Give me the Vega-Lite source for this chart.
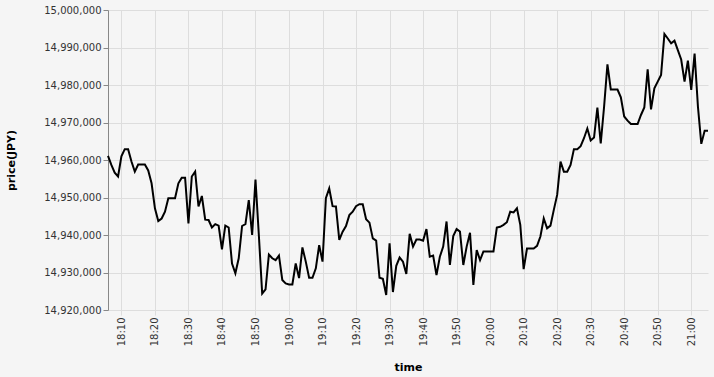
{
  "$schema": "https://vega.github.io/schema/vega-lite/v6.json",
  "width": 600,
  "height": 300,
  "background": "#f5f5f5",
  "config": {"view": {"stroke": null}, "axis": {"gridColor": "#dddddd", "labelColor": "#333333", "titleColor": "#000000", "labelFont": "DejaVu Sans", "titleFont": "DejaVu Sans", "labelFontSize": 10, "titleFontSize": 11}},
  "data": {
    "values": [
      {"t":"2024-01-01T18:06:00","p":14961100},{"t":"2024-01-01T18:07:00","p":14958700},{"t":"2024-01-01T18:08:00","p":14956600},{"t":"2024-01-01T18:09:00","p":14955600},
      {"t":"2024-01-01T18:10:00","p":14961000},{"t":"2024-01-01T18:11:00","p":14962900},{"t":"2024-01-01T18:12:00","p":14962900},{"t":"2024-01-01T18:13:00","p":14959600},
      {"t":"2024-01-01T18:14:00","p":14956900},{"t":"2024-01-01T18:15:00","p":14958800},{"t":"2024-01-01T18:16:00","p":14958800},{"t":"2024-01-01T18:17:00","p":14958800},
      {"t":"2024-01-01T18:18:00","p":14957200},{"t":"2024-01-01T18:19:00","p":14953800},{"t":"2024-01-01T18:20:00","p":14947100},{"t":"2024-01-01T18:21:00","p":14943700},
      {"t":"2024-01-01T18:22:00","p":14944400},{"t":"2024-01-01T18:23:00","p":14946200},{"t":"2024-01-01T18:24:00","p":14949800},{"t":"2024-01-01T18:25:00","p":14949800},
      {"t":"2024-01-01T18:26:00","p":14949800},{"t":"2024-01-01T18:27:00","p":14953800},{"t":"2024-01-01T18:28:00","p":14955300},{"t":"2024-01-01T18:29:00","p":14955300},
      {"t":"2024-01-01T18:30:00","p":14943100},{"t":"2024-01-01T18:31:00","p":14955600},{"t":"2024-01-01T18:32:00","p":14956900},{"t":"2024-01-01T18:33:00","p":14947600},
      {"t":"2024-01-01T18:34:00","p":14950400},{"t":"2024-01-01T18:35:00","p":14944100},{"t":"2024-01-01T18:36:00","p":14944000},{"t":"2024-01-01T18:37:00","p":14942000},
      {"t":"2024-01-01T18:38:00","p":14942900},{"t":"2024-01-01T18:39:00","p":14942500},{"t":"2024-01-01T18:40:00","p":14936200},{"t":"2024-01-01T18:41:00","p":14942500},
      {"t":"2024-01-01T18:42:00","p":14942000},{"t":"2024-01-01T18:43:00","p":14932400},{"t":"2024-01-01T18:44:00","p":14929800},{"t":"2024-01-01T18:45:00","p":14933800},
      {"t":"2024-01-01T18:46:00","p":14942400},{"t":"2024-01-01T18:47:00","p":14942900},{"t":"2024-01-01T18:48:00","p":14949300},{"t":"2024-01-01T18:49:00","p":14940000},
      {"t":"2024-01-01T18:50:00","p":14954800},{"t":"2024-01-01T18:51:00","p":14940000},{"t":"2024-01-01T18:52:00","p":14924400},{"t":"2024-01-01T18:53:00","p":14925500},
      {"t":"2024-01-01T18:54:00","p":14934800},{"t":"2024-01-01T18:55:00","p":14933800},{"t":"2024-01-01T18:56:00","p":14933300},{"t":"2024-01-01T18:57:00","p":14934500},
      {"t":"2024-01-01T18:58:00","p":14928000},{"t":"2024-01-01T18:59:00","p":14927100},{"t":"2024-01-01T19:00:00","p":14926800},{"t":"2024-01-01T19:01:00","p":14926800},
      {"t":"2024-01-01T19:02:00","p":14932400},{"t":"2024-01-01T19:03:00","p":14928500},{"t":"2024-01-01T19:04:00","p":14936700},{"t":"2024-01-01T19:05:00","p":14932900},
      {"t":"2024-01-01T19:06:00","p":14928600},{"t":"2024-01-01T19:07:00","p":14928600},{"t":"2024-01-01T19:08:00","p":14931100},{"t":"2024-01-01T19:09:00","p":14937300},
      {"t":"2024-01-01T19:10:00","p":14932900},{"t":"2024-01-01T19:11:00","p":14949800},{"t":"2024-01-01T19:12:00","p":14952400},{"t":"2024-01-01T19:13:00","p":14947700},
      {"t":"2024-01-01T19:14:00","p":14947600},{"t":"2024-01-01T19:15:00","p":14938700},{"t":"2024-01-01T19:16:00","p":14940900},{"t":"2024-01-01T19:17:00","p":14942400},
      {"t":"2024-01-01T19:18:00","p":14945300},{"t":"2024-01-01T19:19:00","p":14946200},{"t":"2024-01-01T19:20:00","p":14947700},{"t":"2024-01-01T19:21:00","p":14948200},
      {"t":"2024-01-01T19:22:00","p":14948200},{"t":"2024-01-01T19:23:00","p":14944200},{"t":"2024-01-01T19:24:00","p":14943300},{"t":"2024-01-01T19:25:00","p":14939100},
      {"t":"2024-01-01T19:26:00","p":14938500},{"t":"2024-01-01T19:27:00","p":14928600},{"t":"2024-01-01T19:28:00","p":14928300},{"t":"2024-01-01T19:29:00","p":14924000},
      {"t":"2024-01-01T19:30:00","p":14937800},{"t":"2024-01-01T19:31:00","p":14924800},{"t":"2024-01-01T19:32:00","p":14931800},{"t":"2024-01-01T19:33:00","p":14934000},
      {"t":"2024-01-01T19:34:00","p":14932900},{"t":"2024-01-01T19:35:00","p":14929600},{"t":"2024-01-01T19:36:00","p":14940300},{"t":"2024-01-01T19:37:00","p":14936900},
      {"t":"2024-01-01T19:38:00","p":14938800},{"t":"2024-01-01T19:39:00","p":14938800},{"t":"2024-01-01T19:40:00","p":14938500},{"t":"2024-01-01T19:41:00","p":14941600},
      {"t":"2024-01-01T19:42:00","p":14934200},{"t":"2024-01-01T19:43:00","p":14934500},{"t":"2024-01-01T19:44:00","p":14929300},{"t":"2024-01-01T19:45:00","p":14934200},
      {"t":"2024-01-01T19:46:00","p":14936900},{"t":"2024-01-01T19:47:00","p":14943600},{"t":"2024-01-01T19:48:00","p":14932000},{"t":"2024-01-01T19:49:00","p":14939700},
      {"t":"2024-01-01T19:50:00","p":14941600},{"t":"2024-01-01T19:51:00","p":14940900},{"t":"2024-01-01T19:52:00","p":14932000},{"t":"2024-01-01T19:53:00","p":14936900},
      {"t":"2024-01-01T19:54:00","p":14940600},{"t":"2024-01-01T19:55:00","p":14926700},{"t":"2024-01-01T19:56:00","p":14936000},{"t":"2024-01-01T19:57:00","p":14933300},
      {"t":"2024-01-01T19:58:00","p":14935600},{"t":"2024-01-01T19:59:00","p":14935600},{"t":"2024-01-01T20:00:00","p":14935600},{"t":"2024-01-01T20:01:00","p":14935600},
      {"t":"2024-01-01T20:02:00","p":14942000},{"t":"2024-01-01T20:03:00","p":14942200},{"t":"2024-01-01T20:04:00","p":14942700},{"t":"2024-01-01T20:05:00","p":14943400},
      {"t":"2024-01-01T20:06:00","p":14946200},{"t":"2024-01-01T20:07:00","p":14946000},{"t":"2024-01-01T20:08:00","p":14947100},{"t":"2024-01-01T20:09:00","p":14942700},
      {"t":"2024-01-01T20:10:00","p":14930900},{"t":"2024-01-01T20:11:00","p":14936400},{"t":"2024-01-01T20:12:00","p":14936400},{"t":"2024-01-01T20:13:00","p":14936400},
      {"t":"2024-01-01T20:14:00","p":14937100},{"t":"2024-01-01T20:15:00","p":14939600},{"t":"2024-01-01T20:16:00","p":14944400},{"t":"2024-01-01T20:17:00","p":14941800},
      {"t":"2024-01-01T20:18:00","p":14942500},{"t":"2024-01-01T20:19:00","p":14946700},{"t":"2024-01-01T20:20:00","p":14950700},{"t":"2024-01-01T20:21:00","p":14959600},
      {"t":"2024-01-01T20:22:00","p":14956900},{"t":"2024-01-01T20:23:00","p":14956900},{"t":"2024-01-01T20:24:00","p":14958700},{"t":"2024-01-01T20:25:00","p":14962900},
      {"t":"2024-01-01T20:26:00","p":14962900},{"t":"2024-01-01T20:27:00","p":14963700},{"t":"2024-01-01T20:28:00","p":14965800},{"t":"2024-01-01T20:29:00","p":14968400},
      {"t":"2024-01-01T20:30:00","p":14965200},{"t":"2024-01-01T20:31:00","p":14966000},{"t":"2024-01-01T20:32:00","p":14974000},{"t":"2024-01-01T20:33:00","p":14964400},
      {"t":"2024-01-01T20:34:00","p":14974200},{"t":"2024-01-01T20:35:00","p":14985500},{"t":"2024-01-01T20:36:00","p":14978800},{"t":"2024-01-01T20:37:00","p":14978800},
      {"t":"2024-01-01T20:38:00","p":14978800},{"t":"2024-01-01T20:39:00","p":14976700},{"t":"2024-01-01T20:40:00","p":14971600},{"t":"2024-01-01T20:41:00","p":14970500},
      {"t":"2024-01-01T20:42:00","p":14969600},{"t":"2024-01-01T20:43:00","p":14969600},{"t":"2024-01-01T20:44:00","p":14969600},{"t":"2024-01-01T20:45:00","p":14972000},
      {"t":"2024-01-01T20:46:00","p":14974000},{"t":"2024-01-01T20:47:00","p":14984200},{"t":"2024-01-01T20:48:00","p":14973500},{"t":"2024-01-01T20:49:00","p":14979100},
      {"t":"2024-01-01T20:50:00","p":14980900},{"t":"2024-01-01T20:51:00","p":14982700},{"t":"2024-01-01T20:52:00","p":14993600},{"t":"2024-01-01T20:53:00","p":14992400},
      {"t":"2024-01-01T20:54:00","p":14991100},{"t":"2024-01-01T20:55:00","p":14991800},{"t":"2024-01-01T20:56:00","p":14989300},{"t":"2024-01-01T20:57:00","p":14986800},
      {"t":"2024-01-01T20:58:00","p":14980900},{"t":"2024-01-01T20:59:00","p":14986500},{"t":"2024-01-01T21:00:00","p":14978700},{"t":"2024-01-01T21:01:00","p":14988400},
      {"t":"2024-01-01T21:02:00","p":14974200},{"t":"2024-01-01T21:03:00","p":14964300},{"t":"2024-01-01T21:04:00","p":14967800},{"t":"2024-01-01T21:05:00","p":14967800}
    ]
  },
  "mark": {"type": "line", "color": "#000000", "strokeWidth": 2},
  "encoding": {
    "x": {
      "field": "t", "type": "temporal", "title": "time",
      "scale": {"nice": false},
      "axis": {
        "format": "%H:%M", "labelAngle": -90, "domain": false, "tickColor": "#dddddd", "titlePadding": 16,
        "values": [
          {"year": 2024, "month": 1, "date": 1, "hours": 18, "minutes": 10},
          {"year": 2024, "month": 1, "date": 1, "hours": 18, "minutes": 20},
          {"year": 2024, "month": 1, "date": 1, "hours": 18, "minutes": 30},
          {"year": 2024, "month": 1, "date": 1, "hours": 18, "minutes": 40},
          {"year": 2024, "month": 1, "date": 1, "hours": 18, "minutes": 50},
          {"year": 2024, "month": 1, "date": 1, "hours": 19, "minutes": 0},
          {"year": 2024, "month": 1, "date": 1, "hours": 19, "minutes": 10},
          {"year": 2024, "month": 1, "date": 1, "hours": 19, "minutes": 20},
          {"year": 2024, "month": 1, "date": 1, "hours": 19, "minutes": 30},
          {"year": 2024, "month": 1, "date": 1, "hours": 19, "minutes": 40},
          {"year": 2024, "month": 1, "date": 1, "hours": 19, "minutes": 50},
          {"year": 2024, "month": 1, "date": 1, "hours": 20, "minutes": 0},
          {"year": 2024, "month": 1, "date": 1, "hours": 20, "minutes": 10},
          {"year": 2024, "month": 1, "date": 1, "hours": 20, "minutes": 20},
          {"year": 2024, "month": 1, "date": 1, "hours": 20, "minutes": 30},
          {"year": 2024, "month": 1, "date": 1, "hours": 20, "minutes": 40},
          {"year": 2024, "month": 1, "date": 1, "hours": 20, "minutes": 50},
          {"year": 2024, "month": 1, "date": 1, "hours": 21, "minutes": 0}
        ]
      }
    },
    "y": {
      "field": "p", "type": "quantitative", "title": "price(JPY)",
      "scale": {"domain": [14920000, 15000000]},
      "axis": {"format": ",d", "tickCount": 8, "domainColor": "#888888", "tickColor": "#888888", "titlePadding": 27}
    }
  }
}
